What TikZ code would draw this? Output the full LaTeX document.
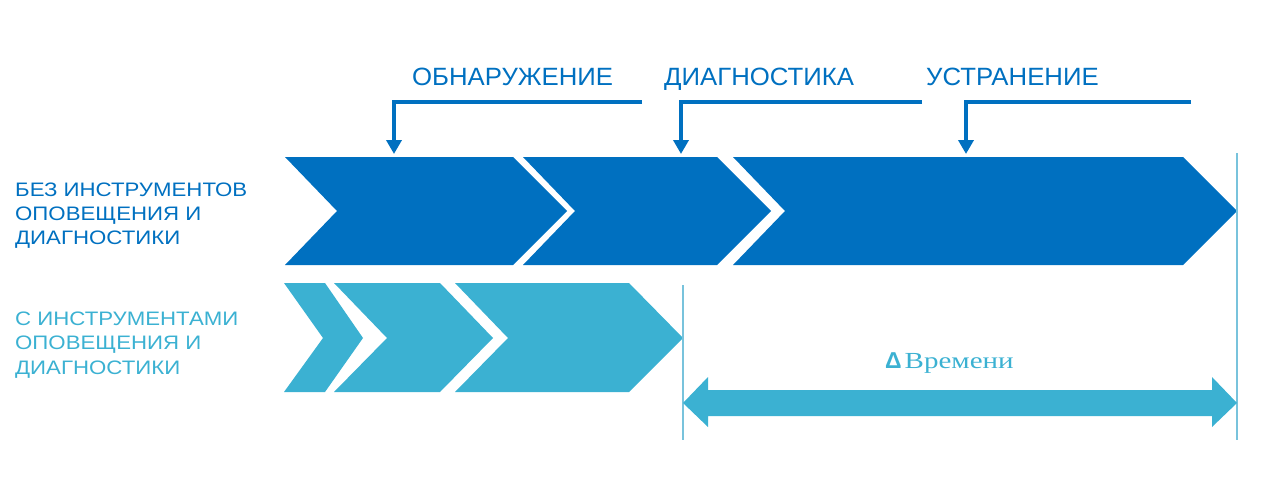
\documentclass[tikz,border=0pt]{standalone}
\usepackage{fontspec}
\setmainfont{Liberation Sans}
\newfontfamily\serifx[FakeStretch=1.26]{Liberation Serif}
\newfontfamily\sidefont[FakeStretch=1.14]{Liberation Sans}
\newfontfamily\topfont[FakeStretch=1.03]{Liberation Sans}
\usetikzlibrary{arrows.meta}
\definecolor{dblue}{RGB}{0,112,192}
\definecolor{lblue}{RGB}{59,177,210}
\definecolor{gline}{RGB}{120,195,220}
\tikzset{
  toplabel/.style={anchor=base west, inner sep=0pt, text=dblue, font=\topfont\fontsize{25}{30}\selectfont},
  sidelabel/.style={anchor=base west, inner sep=0pt, font=\sidefont\fontsize{19.5}{24}\selectfont, align=left},
  pointer/.style={draw=dblue, line width=4pt, -{Triangle[width=15pt,length=14pt]}},
  guide/.style={draw=gline, line width=1.2pt},
}
\begin{document}
\begin{tikzpicture}[x=1pt,y=-1pt]
\useasboundingbox (0,0) rectangle (1280,495);
% top row chevrons
\fill[dblue] (285,157) -- (513,157) -- (567,211) -- (513,265) -- (285,265) -- (337,211) -- cycle;
\fill[dblue] (523,157) -- (717,157) -- (771,211) -- (717,265) -- (523,265) -- (575,211) -- cycle;
\fill[dblue] (733,157) -- (1183,157) -- (1237,211) -- (1183,265) -- (733,265) -- (785,211) -- cycle;
% bottom row chevrons
\fill[lblue] (284,283) -- (325,283) -- (363,338) -- (325,392) -- (284,392) -- (323,338) -- cycle;
\fill[lblue] (334,283) -- (440,283) -- (493,338) -- (440,392) -- (334,392) -- (387,338) -- cycle;
\fill[lblue] (455,283) -- (629,283) -- (683,338) -- (629,392) -- (455,392) -- (508,338) -- cycle;
% guide lines
\coordinate (g1t) at (683,285);
\coordinate (g1b) at (683,440);
\coordinate (g2t) at (1237,153);
\coordinate (g2b) at (1237,440);
\draw[guide] (g1t) -- (g1b);
\draw[guide] (g2t) -- (g2b);
% double arrow
\fill[lblue] (683,403) -- (708,377) -- (708,390) -- (1212,390) -- (1212,377) -- (1237,403) -- (1212,427) -- (1212,416) -- (708,416) -- (708,427) -- cycle;
% labels
\node[toplabel] (l1) at (412,85) {ОБНАРУЖЕНИЕ};
\node[toplabel] (l2) at (664,85) {ДИАГНОСТИКА};
\node[toplabel] (l3) at (926,85) {УСТРАНЕНИЕ};
% pointer arrows
\coordinate (p1s) at (642,102); \coordinate (p1c) at (394,102); \coordinate (p1e) at (394,154);
\coordinate (p2s) at (922,102); \coordinate (p2c) at (681,102); \coordinate (p2e) at (681,154);
\coordinate (p3s) at (1191,102); \coordinate (p3c) at (966,102); \coordinate (p3e) at (966,154);
\draw[pointer] (p1s) -- (p1c) -- (p1e);
\draw[pointer] (p2s) -- (p2c) -- (p2e);
\draw[pointer] (p3s) -- (p3c) -- (p3e);
% side labels
\node[sidelabel, text=dblue] (s1a) at (15,196) {БЕЗ ИНСТРУМЕНТОВ};
\node[sidelabel, text=dblue] (s1b) at (15,220) {ОПОВЕЩЕНИЯ И};
\node[sidelabel, text=dblue] (s1c) at (15,244) {ДИАГНОСТИКИ};
\node[sidelabel, text=lblue] (s2a) at (15,325) {С ИНСТРУМЕНТАМИ};
\node[sidelabel, text=lblue] (s2b) at (15,349) {ОПОВЕЩЕНИЯ И};
\node[sidelabel, text=lblue] (s2c) at (15,374) {ДИАГНОСТИКИ};
% delta label
\node[anchor=base west, inner sep=0pt, text=lblue, font=\fontsize{23}{27}\selectfont] (dt) at (885,368) {\textbf{Δ}\hspace{3pt}{\serifx Времени}};
\end{tikzpicture}
\end{document}
